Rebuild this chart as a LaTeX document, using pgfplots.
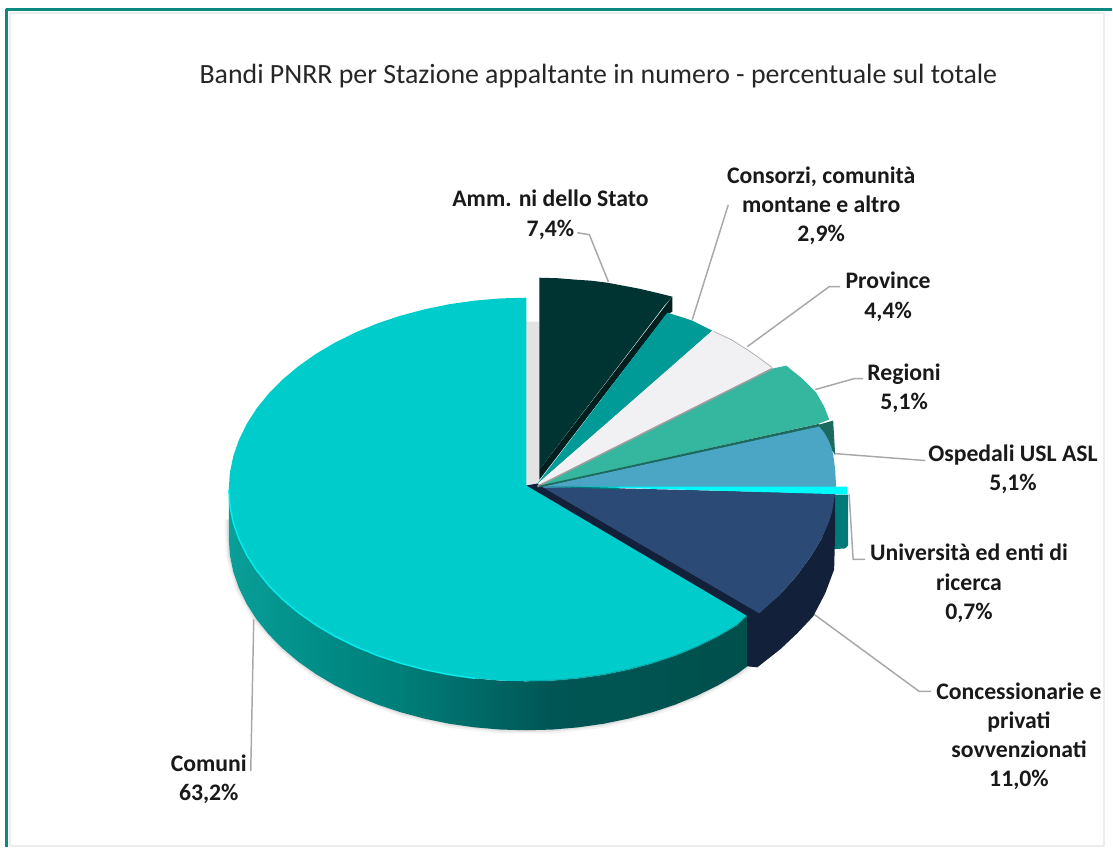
\documentclass[border=0pt]{standalone}
\usepackage{pgfplots}
\pgfplotsset{compat=1.18}
\usepackage{fontspec}
\setmainfont{Carlito}
\definecolor{frame}{HTML}{0A8A80}
\definecolor{comuni}{HTML}{00CCCC}
\definecolor{amm}{HTML}{003432}
\definecolor{ammd}{HTML}{001F1E}
\definecolor{cons}{HTML}{009A97}
\definecolor{prov}{HTML}{F1F1F3}
\definecolor{reg}{HTML}{34B79E}
\definecolor{regd}{HTML}{1B6A5E}
\definecolor{osp}{HTML}{4AA6C4}
\definecolor{uni}{HTML}{00FBFB}
\definecolor{unid}{HTML}{007B7A}
\definecolor{conc}{HTML}{2C4A76}
\definecolor{concd}{HTML}{122039}
\definecolor{leader}{HTML}{A8A8A8}
\definecolor{s0}{HTML}{0A9F98}
\definecolor{s1}{HTML}{008C87}
\definecolor{s2}{HTML}{007D78}
\definecolor{s3}{HTML}{005655}
\definecolor{s4}{HTML}{00504C}
\pgfdeclarehorizontalshading{sideshade}{100bp}{color(0bp)=(s0);
  color(25bp)=(s0);
  color(34bp)=(s1);
  color(42bp)=(s2);
  color(56bp)=(s3);
  color(75bp)=(s4);
  color(100bp)=(s4)}
\begin{document}
\begin{tikzpicture}
\begin{axis}[
  scale only axis, width=834.75pt, height=636pt,
  xmin=0, xmax=1113, ymin=0, ymax=848, y dir=reverse,
  hide axis, clip=false,
  every axis plot/.append style={draw=none, no markers, line join=round}
]
% full canvas
\addplot[fill=white] coordinates {(0,0) (1113,0) (1113,848) (0,848)};
% frame
\addplot[draw=black!7, line width=1pt] coordinates {(10,847) (10,13) (1105,13) (1105,847) (10,847)};
\addplot[draw=frame, line width=1.7pt] coordinates {(6.5,848) (6.5,9.5) (1113,9.5)};
% soft shadow beneath the pie
\addplot[draw=black, draw opacity=0.05, line width=6pt] coordinates {(229,520) (230.1,555.7) (239.2,588.7) (256.9,620.1) (282.9,649.1) (316.3,674.8) (356.1,696.3) (401.1,713) (449.9,724.5) (501,730.3) (553,730.3) (604.1,724.5) (652.9,713) (697.9,696.3) (737.7,674.8) (748,667)};
\addplot[draw=black, draw opacity=0.07, line width=3pt] coordinates {(229,520) (230.1,555.7) (239.2,588.7) (256.9,620.1) (282.9,649.1) (316.3,674.8) (356.1,696.3) (401.1,713) (449.9,724.5) (501,730.3) (553,730.3) (604.1,724.5) (652.9,713) (697.9,696.3) (737.7,674.8) (748,667)};
% shadow between Comuni and Amm.
\addplot[fill=black!11] coordinates {(527,322) (540,322) (540,480) (538,490) (527,486)};
% leaders
\addplot[draw=leader, line width=1.1pt] coordinates {(609,282) (590,235) (578,233)};
\addplot[draw=leader, line width=1.1pt] coordinates {(693,320) (729,205)};
\addplot[draw=leader, line width=1.1pt] coordinates {(748,347) (830,287) (841,287)};
\addplot[draw=leader, line width=1.1pt] coordinates {(816,390) (855,379) (864,379)};
\addplot[draw=leader, line width=1.1pt] coordinates {(835,454) (926,461)};
\addplot[draw=leader, line width=1.1pt] coordinates {(850,495) (854,560) (866,560)};
\addplot[draw=leader, line width=1.1pt] coordinates {(815,615) (920,692) (932,692)};
\addplot[draw=leader, line width=1.1pt] coordinates {(254,620) (251,772)};
% Comuni side
\addplot[shading=sideshade] coordinates {(229,490) (230.1,506.7) (233.5,523.3) (239.2,539.7) (247,555.7) (256.9,571.1) (268.9,586) (282.9,600.1) (298.7,613.4) (316.3,625.8) (335.4,637.1) (356.1,647.3) (378,656.3) (401.1,664) (425.1,670.4) (449.9,675.5) (475.3,679.1) (501,681.3) (527,682) (553,681.3) (578.7,679.1) (604.1,675.5) (628.9,670.4) (652.9,664) (676,656.3) (697.9,647.3) (718.6,637.1) (737.7,625.8) (748,616) (748,667) (737.7,674.8) (718.6,686.1) (697.9,696.3) (676,705.3) (652.9,713) (628.9,719.4) (604.1,724.5) (578.7,728.1) (553,730.3) (527,731) (501,730.3) (475.3,728.1) (449.9,724.5) (425.1,719.4) (401.1,713) (378,705.3) (356.1,696.3) (335.4,686.1) (316.3,674.8) (298.7,662.4) (282.9,649.1) (268.9,635) (256.9,620.1) (247,604.7) (239.2,588.7) (233.5,572.3) (230.1,555.7) (229,539)};
% Comuni top
\addplot[fill=comuni] coordinates {(527,298) (501,298.7) (475.3,300.9) (449.9,304.5) (425.1,309.6) (401.1,316) (378,323.7) (356.1,332.7) (335.4,342.9) (316.3,354.2) (298.7,366.6) (282.9,379.9) (268.9,394) (256.9,408.9) (247,424.3) (239.2,440.3) (233.5,456.7) (230.1,473.3) (229,490) (230.1,506.7) (233.5,523.3) (239.2,539.7) (247,555.7) (256.9,571.1) (268.9,586) (282.9,600.1) (298.7,613.4) (316.3,625.8) (335.4,637.1) (356.1,647.3) (378,656.3) (401.1,664) (425.1,670.4) (449.9,675.5) (475.3,679.1) (501,681.3) (527,682) (553,681.3) (578.7,679.1) (604.1,675.5) (628.9,670.4) (652.9,664) (676,656.3) (697.9,647.3) (718.6,637.1) (737.7,625.8) (748,616) (527,486)};
% bevel highlights
\addplot[draw=uni, draw opacity=0.75, line width=1.1pt] coordinates {(229,490) (230.1,506.7) (233.5,523.3) (239.2,539.7) (247,555.7) (256.9,571.1) (268.9,586) (282.9,600.1) (298.7,613.4) (316.3,625.8) (335.4,637.1) (356.1,647.3) (378,656.3) (401.1,664) (425.1,670.4) (449.9,675.5) (475.3,679.1)};
\addplot[draw=s2, draw opacity=0.35, line width=1.4pt] coordinates {(527,682) (553,681.3) (578.7,679.1) (604.1,675.5) (628.9,670.4) (652.9,664) (676,656.3) (697.9,647.3) (718.6,637.1) (737.7,625.8) (748,616)};
% Universita side, behind navy
\addplot[fill=unid] coordinates {(830,495) (849,495) (849,546) (846,549) (830,550)};
% Concessionarie side
\addplot[fill=concd] coordinates {(836,494) (836,530) (835,570) (826,594) (814,617) (798,634) (781,650) (758,668) (748,667) (748,616) (760,612) (780,596) (797,577) (811,558) (822,540) (830,520)};
% Concessionarie top
\addplot[fill=concd] coordinates {(527,486) (748,616.5) (760,617) (762,608) (538,484)};
\addplot[fill=conc] coordinates {(542,487) (836,494) (833,512) (830,522) (822,540) (811,558) (797,577) (780,596) (760,614)};
% Amm.
\addplot[fill=ammd] coordinates {(673,297) (673,312) (666,316) (540,480) (540,470)};
\addplot[fill=amm] coordinates {(540,278) (558,278.5) (577,280) (592,281) (608,283) (624,286) (640,289) (657,293) (673,297) (665,306) (540,470)};
% Consorzi
\addplot[fill=cons] coordinates {(538,484) (668,313) (681,317) (693,321) (703,326) (713,331)};
% Province
\addplot[fill=prov] coordinates {(538,486) (713,331) (732,340) (748,350) (761,359) (773,368)};
\addplot[draw=black!30, line width=0.6pt] coordinates {(715,332) (732,340) (748,350) (761,359) (773,368)};
% Regioni
\addplot[fill=regd] coordinates {(538,488) (820,425) (834,421) (836,455) (824,440)};
\addplot[fill=reg] coordinates {(538,487) (773,369) (787,366) (803,379) (817,393) (825,407) (830,420) (820,424)};
\addplot[draw=black!38, line width=1.2pt] coordinates {(538,487) (773,369)};
% Ospedali
\addplot[fill=osp] coordinates {(544,487) (820,427) (825,433) (829,440) (832,447) (834,455) (836,470) (837,488) (544,488)};
\addplot[draw=regd, line width=1.2pt] coordinates {(540,487) (820,425)};
% Universita
\addplot[fill=unid] coordinates {(538,487) (620,487) (620,490)};
\addplot[fill=uni] coordinates {(575,487) (848,487) (848,495)};
% Text
\node[font=\fontsize{20.9}{24}\selectfont, text=black!85] at (axis cs:599,76) {Bandi PNRR per Stazione appaltante in numero - percentuale sul totale};
\tikzset{lab/.style={font=\fontsize{17.8}{22}\bfseries\selectfont, align=center, text=black!90}}
\node[lab] at (axis cs:551,215) {Amm. ni dello Stato\\7,4\%};
\node[lab] at (axis cs:822,206) {Consorzi, comunità\\montane e altro\\2,9\%};
\node[lab] at (axis cs:889,297) {Province\\4,4\%};
\node[lab] at (axis cs:905,389) {Regioni\\5,1\%};
\node[lab] at (axis cs:1014,470) {Ospedali USL ASL\\5,1\%};
\node[lab] at (axis cs:970,584) {Università ed enti di\\ricerca\\0,7\%};
\node[lab] at (axis cs:1020,737) {Concessionarie e\\privati\\sovvenzionati\\11,0\%};
\node[lab] at (axis cs:209,780) {Comuni\\63,2\%};
\end{axis}
\end{tikzpicture}
\end{document}
